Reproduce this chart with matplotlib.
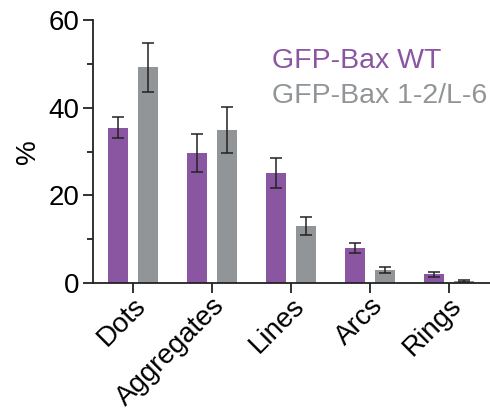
import matplotlib
matplotlib.use("Agg")
import matplotlib.pyplot as plt
import numpy as np
from matplotlib.ticker import MultipleLocator

plt.rcParams['font.family'] = ['Liberation Sans', 'DejaVu Sans']

categories = ["Dots", "Aggregates", "Lines", "Arcs", "Rings"]
series_names = ["GFP-Bax WT", "GFP-Bax 1-2/L-6"]
wt_values = [35.5, 29.7, 25.1, 8.0, 2.0]
wt_err = [2.3, 4.3, 3.5, 1.2, 0.6]
mut_values = [49.3, 34.9, 13.0, 3.0, 0.45]
mut_err = [5.6, 5.3, 2.0, 0.6, 0.2]
colors = ["#8b56a1", "#929598"]

fig = plt.figure(figsize=(4.9, 4.12), dpi=100)
ax = fig.add_axes([0.19, 0.313, 0.81, 0.638])

x = np.arange(len(categories))
w = 0.253
off = 0.19
err_kw = dict(ecolor="#222222", elinewidth=1.1, capsize=4, capthick=1.1)
ax.bar(x - off, wt_values, w, yerr=wt_err, color=colors[0], error_kw=err_kw)
ax.bar(x + off, mut_values, w, yerr=mut_err, color=colors[1], error_kw=err_kw)

ax.set_xlim(-0.506, 4.52)
ax.set_ylim(0, 60)
ax.yaxis.set_major_locator(MultipleLocator(20))
ax.yaxis.set_minor_locator(MultipleLocator(10))
ax.set_xticks(x)
ax.set_xticklabels(categories, rotation=45, ha="right", rotation_mode="anchor", fontsize=20)
ax.tick_params(axis="y", labelsize=20, pad=3)
ax.tick_params(axis="x", pad=0)
ax.tick_params(which="major", direction="out", length=7, width=1.3, color="#222222")
ax.tick_params(which="minor", direction="out", length=4, width=1.3, color="#222222")
ax.set_ylabel("%", fontsize=20, labelpad=5)

for s in ["top", "right"]:
    ax.spines[s].set_visible(False)
for s in ["left", "bottom"]:
    ax.spines[s].set_linewidth(1.3)
    ax.spines[s].set_color("#222222")

ax.text(0.451, 0.8175, series_names[0], transform=ax.transAxes, color=colors[0],
        fontsize=20.5, ha="left", va="baseline")
ax.text(0.451, 0.684, series_names[1], transform=ax.transAxes, color=colors[1],
        fontsize=20.5, ha="left", va="baseline")

fig.savefig("out.png", dpi=100)
